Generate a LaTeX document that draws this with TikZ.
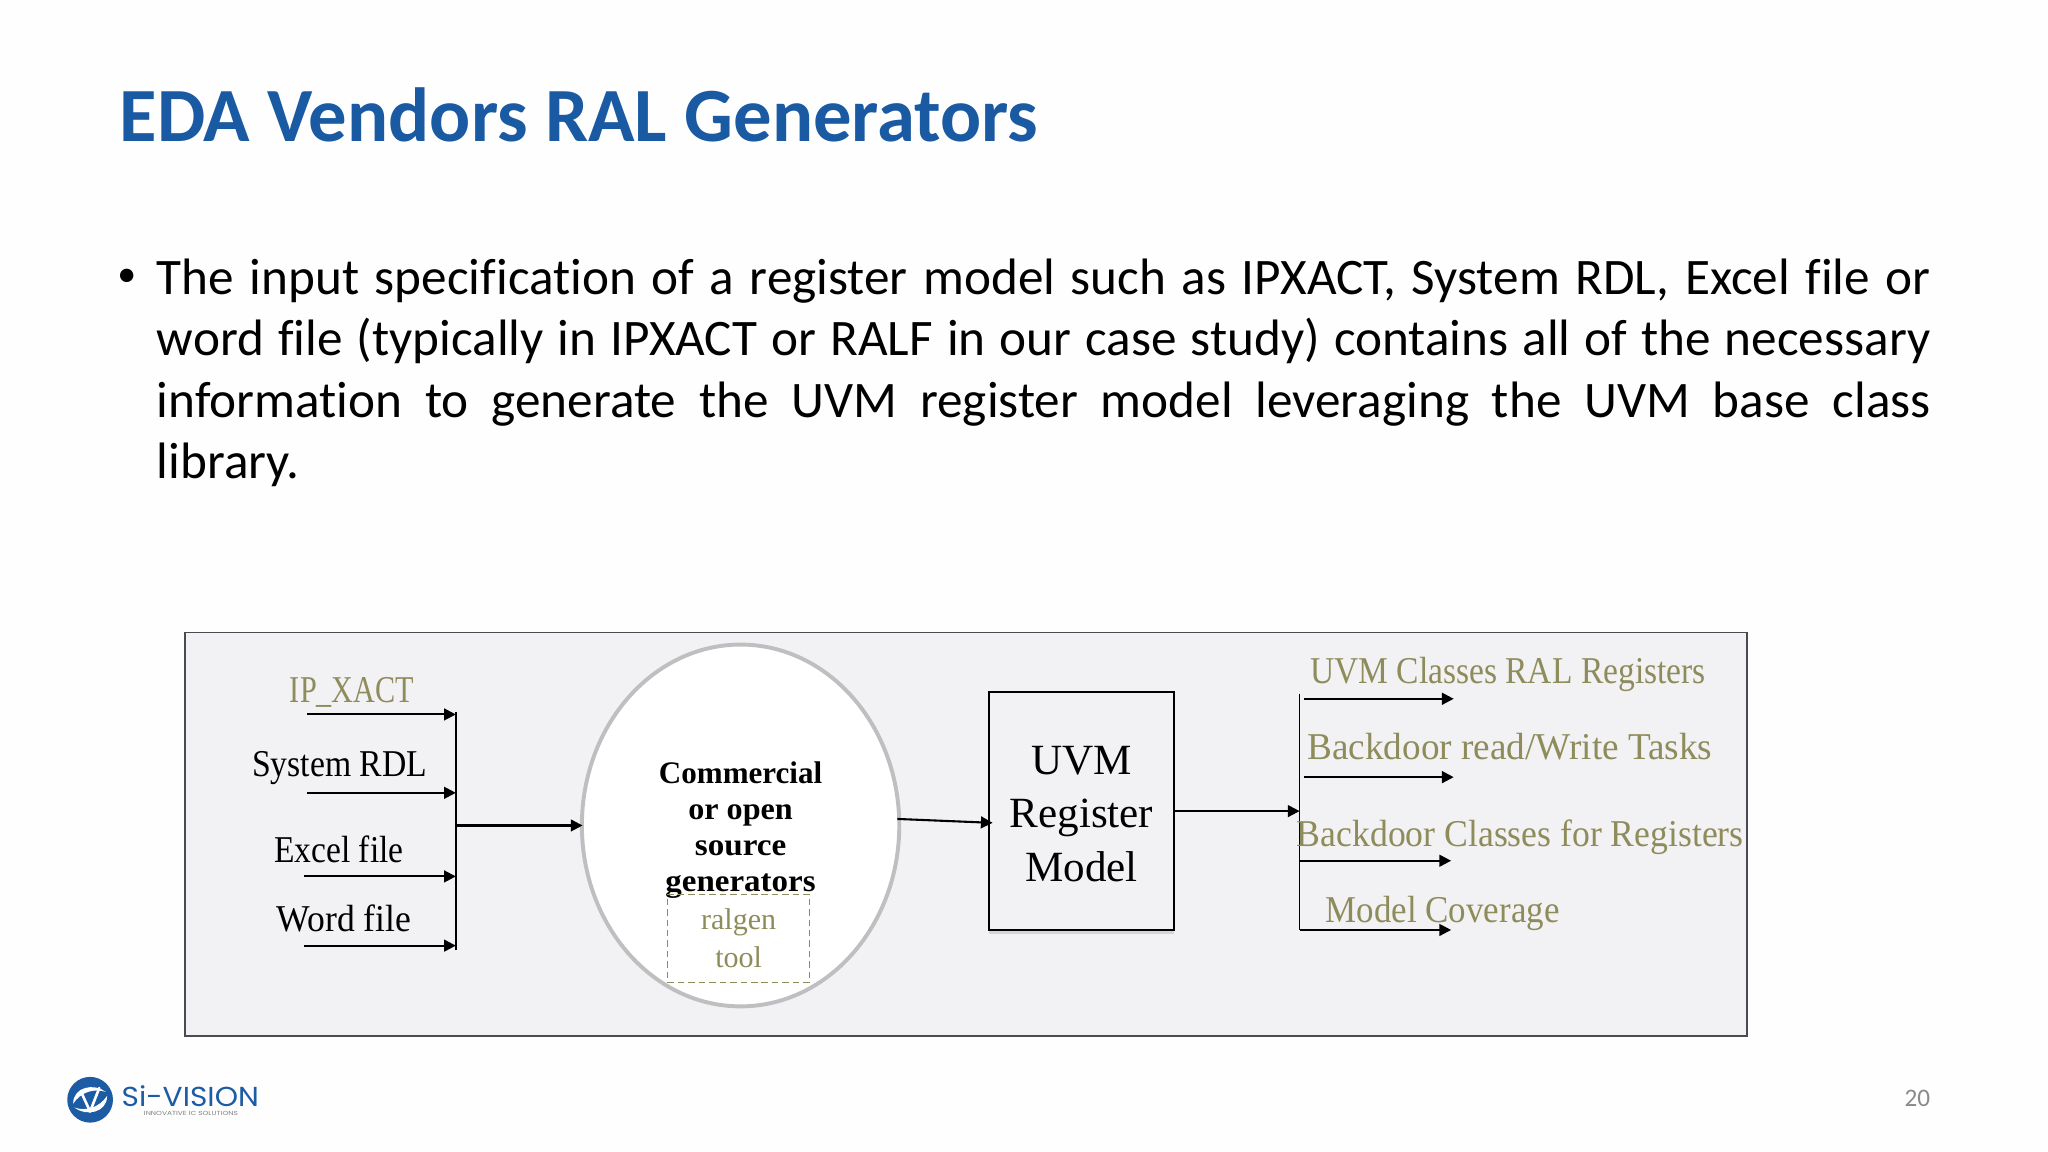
\documentclass[tikz,border=0pt]{standalone}
\usepackage{fontspec}
\usetikzlibrary{arrows.meta,shadows,shapes.geometric,calc}
\setmainfont{Liberation Serif}
\newfontfamily\slidefont[Ligatures=NoCommon]{Carlito}
\newfontfamily\logofont{Poppins}
\definecolor{titleblue}{HTML}{1A5AA3}
\definecolor{framefill}{HTML}{F2F1F3}
\definecolor{frameline}{HTML}{4A4A50}
\definecolor{olivetext}{HTML}{8E8C5B}
\definecolor{ringgray}{HTML}{BFBFC1}
\definecolor{pagegray}{HTML}{8A8A8A}
\definecolor{logoblue}{HTML}{1C5CA4}
\newcommand{\fitw}[2]{\resizebox{#1pt}{\height}{#2}}
\tikzset{
  flow/.style={line width=1.6pt,-{Triangle[length=9pt,width=9pt]}},
  busline/.style={line width=1.3pt},
  blacklabel/.style={inner sep=0pt,text=black,font=\fontsize{29}{31}\selectfont},
  olivelabel/.style={inner sep=0pt,text=olivetext,font=\fontsize{29}{31}\selectfont},
}
\begin{document}
\begin{tikzpicture}[x=1pt,y=-1pt]
\useasboundingbox (0,0) rectangle (1568,882);
\fill[white!99!gray] (0,0) rectangle (1568,882);
% title and bullet text
\node[anchor=base west,inner sep=0pt,text=titleblue,font=\slidefont\bfseries\fontsize{58.7}{60}\selectfont] (title) at (91.5,108) {EDA Vendors RAL Generators};
\node[anchor=base,inner sep=0pt,font=\slidefont\fontsize{29}{31}\selectfont] (bullet) at (97,219) {•};
\node[anchor=north west,inner sep=0pt,text width=1358pt,align=justify,font=\slidefont\fontsize{39.2}{47}\selectfont] (body) at (120,198)
{The input specification of a register model such as IPXACT, System RDL, Excel file or\linebreak
word file (typically in IPXACT or RALF in our case study) contains all of the necessary\linebreak
information to generate the UVM register model leveraging the UVM base class\linebreak
library.};
% frame
\node[draw=frameline,fill=framefill,line width=1.2pt,minimum width=1196pt,minimum height=309pt,inner sep=0pt,anchor=north west] (frame) at (141,483.5) {};
% left labels
\node[olivelabel] (ipxact) at (269.5,530) {\fitw{95}{IP\_XACT}};
\node[blacklabel] (rdl) at (260,588) {\fitw{134}{System RDL}};
\node[blacklabel] (excel) at (259.5,650) {\fitw{99}{Excel file}};
\node[blacklabel] (word) at (263.5,703.5) {\fitw{103}{Word file}};
\coordinate (i1) at (235,547);
\coordinate (i2) at (235,607);
\coordinate (i3) at (233,671);
\coordinate (i4) at (233,724);
\coordinate (bl1) at (349,545);
\coordinate (bl2) at (349,727);
\coordinate (blm) at (349,632);
\draw[busline] (bl1) -- (bl2);
\foreach \p in {i1,i2,i3,i4} \draw[flow] (\p) -- (bl1 |- \p);
% generator ellipse
\node[ellipse,draw=ringgray,fill=white,line width=3pt,minimum width=243pt,minimum height=277pt,inner sep=0pt] (gen) at (567,632) {};
\node[inner sep=0pt,align=center,font=\bfseries\fontsize{24}{27.6}\selectfont] (gentext) at (567,635.5) {\fitw{125}{Commercial}\\\fitw{80}{or open}\\\fitw{70}{source}\\\fitw{115}{generators}};
\node[draw=olivetext,dash pattern=on 5pt off 3pt,line width=1pt,minimum width=109pt,minimum height=67pt,inner sep=0pt,align=center,text=olivetext,font=\fontsize{23}{29}\selectfont] (ralgen) at (565.5,718.5) {ralgen\\tool};
\draw[flow,shorten >=-2pt] (blm) -- (gen.west);
% register model
\node[draw=black,fill=framefill,line width=1.3pt,minimum width=142pt,minimum height=182pt,inner sep=0pt,drop shadow={shadow xshift=0pt,shadow yshift=-3pt,opacity=.25}] (uvm) at (828,621) {};
\node[inner sep=0pt,align=center,font=\fontsize{33}{41}\selectfont] (uvmtext) at (828,623) {UVM\\Register\\Model};
\coordinate (genout) at (687,627);
\coordinate (uvmin) at (760,630);
\draw[flow] (genout) -- (uvmin);
% outputs
\coordinate (br1) at (995,531);
\coordinate (br2) at (995,712);
\draw[busline] (br1) -- (br2);
\draw[flow] (uvm.east) -- (br1 |- uvm.east);
\coordinate (o1) at (998,535);
\coordinate (o2) at (998,595);
\coordinate (o3) at (995,659);
\coordinate (o4) at (995,712);
\coordinate (e1) at (1113,535);
\coordinate (e2) at (1113,595);
\coordinate (e3) at (1111,659);
\coordinate (e4) at (1111,712);
\draw[flow] (o1) -- (e1);
\draw[flow] (o2) -- (e2);
\draw[flow] (o3) -- (e3);
\draw[flow] (o4) -- (e4);
\node[olivelabel] (ol1) at (1154.5,516) {\fitw{303}{UVM Classes RAL Registers}};
\node[olivelabel] (ol2) at (1156,572) {\fitw{310}{Backdoor read/Write Tasks}};
\node[olivelabel] (ol3) at (1164,641) {\fitw{342}{Backdoor Classes for Registers}};
\node[olivelabel] (ol4) at (1104.5,699) {\fitw{179}{Model Coverage}};
% logo
\node[circle,fill=logoblue,minimum size=35pt,inner sep=0pt] (mark) at (69,842) {};
\fill[white] (56,845) .. controls (56,832) and (72,829) .. (81,836) .. controls (72,833) and (62,836) .. (56,845);
\fill[white] (82,839) .. controls (82,852) and (66,855) .. (57,848) .. controls (66,851) and (76,848) .. (82,839);
\draw[white,line width=2pt,line cap=round,line join=round] (63,838) -- (69,851) -- (76,833);
\node[anchor=west,inner sep=0pt,text=logoblue,font=\logofont\fontsize{21}{22}\selectfont] (logo) at (93,839) {\fitw{105}{Si-VISION}};
\node[anchor=west,inner sep=0pt,text=gray,font=\logofont\fontsize{4.5}{5}\selectfont] (tag) at (110,852.5) {\fitw{72}{INNOVATIVE IC SOLUTIONS}};
\node[inner sep=0pt,text=pagegray,font=\slidefont\fontsize{19.3}{21}\selectfont] (page) at (1468,841) {20};
\end{tikzpicture}
\end{document}
